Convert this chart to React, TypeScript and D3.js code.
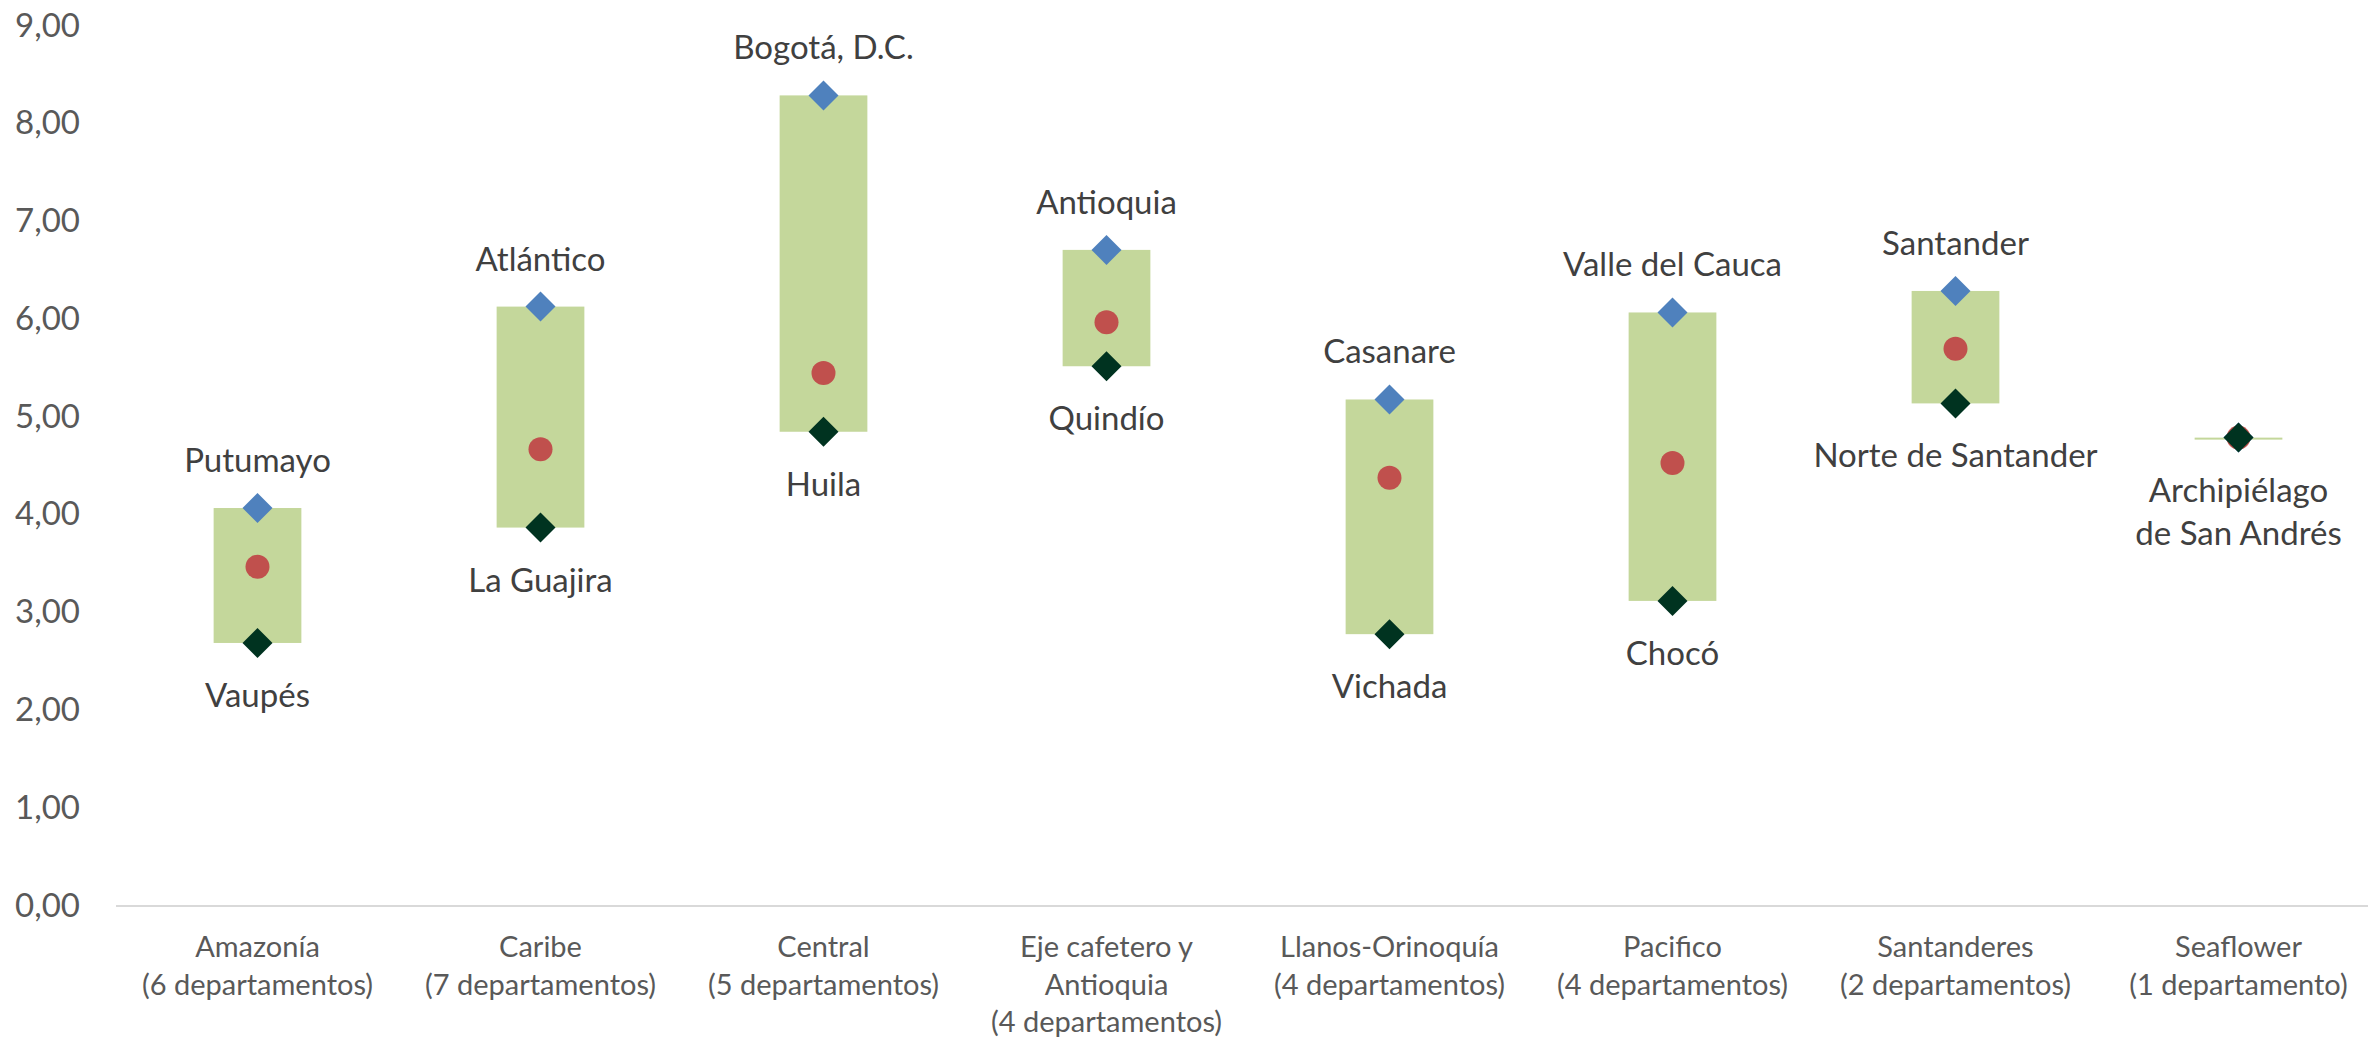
import React, { useEffect } from "react";
import * as d3 from "d3";

// regiones y valores (min, promedio, max)
const regions = [
  ["Amazonía", "(6 departamentos)"],
  ["Caribe", "(7 departamentos)"],
  ["Central", "(5 departamentos)"],
  ["Eje cafetero y", "Antioquia", "(4 departamentos)"],
  ["Llanos-Orinoquía", "(4 departamentos)"],
  ["Pacifico", "(4 departamentos)"],
  ["Santanderes", "(2 departamentos)"],
  ["Seaflower", "(1 departamento)"],
];
const minValues = [2.68, 3.86, 4.84, 5.51, 2.77, 3.11, 5.13, 4.78];
const avgValues = [3.46, 4.66, 5.44, 5.96, 4.37, 4.52, 5.69, 4.78];
const maxValues = [4.06, 6.12, 8.28, 6.7, 5.17, 6.06, 6.28, 4.78];
const maxNames = [["Putumayo"], ["Atlántico"], ["Bogotá, D.C."], ["Antioquia"], ["Casanare"], ["Valle del Cauca"], ["Santander"], []];
const minNames = [["Vaupés"], ["La Guajira"], ["Huila"], ["Quindío"], ["Vichada"], ["Chocó"], ["Norte de Santander"], ["Archipiélago", "de San Andrés"]];
const yTicks = [0, 1, 2, 3, 4, 5, 6, 7, 8, 9];

const W = 2368;
const H = 1042;
const font = "Lato, 'Open Sans', sans-serif";
const grey = "#595959";

export default function App() {
  useEffect(() => {
    document.body.style.margin = "0";
  }, []);

  const x = d3
    .scaleBand<number>()
    .domain(d3.range(regions.length))
    .range([116, 2380])
    .padding(0);
  const y = d3.scaleLinear().domain([0, 9]).range([905, 25]);

  const bw = x.bandwidth() * 0.31;
  const cx = (i: number) => (x(i) as number) + x.bandwidth() / 2;
  const diamond = (px: number, py: number, r: number) =>
    `M${px},${py - r}L${px + r},${py}L${px},${py + r}L${px - r},${py}Z`;

  return (
    <svg width={W} height={H} style={{ display: "block", background: "#fff" }} fontFamily={font}>
      {/* eje y */}
      {yTicks.map((t) => (
        <text key={t} x={80} y={y(t)} dy="0.35em" textAnchor="end" fontSize={33} fill={grey}>
          {d3.format(".2f")(t).replace(".", ",")}
        </text>
      ))}
      <line x1={116} x2={W} y1={906} y2={906} stroke="#d9d9d9" strokeWidth={2} />

      {/* rangos */}
      {regions.map((r, i) => {
        const top = y(maxValues[i]);
        const bottom = y(minValues[i]);
        return (
          <rect
            key={"b" + i}
            x={cx(i) - bw / 2}
            y={top}
            width={bw}
            height={Math.max(bottom - top, 2)}
            fill="#c4d79b"
          />
        );
      })}
      {maxValues.map((v, i) => (
        <path key={"mx" + i} d={diamond(cx(i), y(v), 15)} fill="#4f81bd" />
      ))}
      {avgValues.map((v, i) => (
        <circle key={"av" + i} cx={cx(i)} cy={y(v)} r={12} fill="#c0504d" />
      ))}
      {minValues.map((v, i) => (
        <path key={"mn" + i} d={diamond(cx(i), y(v), 15)} fill="#003320" />
      ))}

      {/* etiquetas de departamentos */}
      {maxNames.map((lines, i) =>
        lines.map((s, j) => (
          <text
            key={"tl" + i + j}
            x={cx(i)}
            y={y(maxValues[i]) - 36 - (lines.length - 1 - j) * 43}
            textAnchor="middle"
            fontSize={33}
            fill="#404040"
          >
            {s}
          </text>
        ))
      )}
      {minNames.map((lines, i) =>
        lines.map((s, j) => (
          <text
            key={"bl" + i + j}
            x={cx(i)}
            y={y(minValues[i]) + 64 + j * 43}
            textAnchor="middle"
            fontSize={33}
            fill="#404040"
          >
            {s}
          </text>
        ))
      )}

      {/* categorias */}
      {regions.map((lines, i) =>
        lines.map((s, j) => (
          <text
            key={"c" + i + j}
            x={cx(i)}
            y={957 + j * 37.5}
            textAnchor="middle"
            fontSize={29}
            fill={grey}
          >
            {s}
          </text>
        ))
      )}
    </svg>
  );
}
